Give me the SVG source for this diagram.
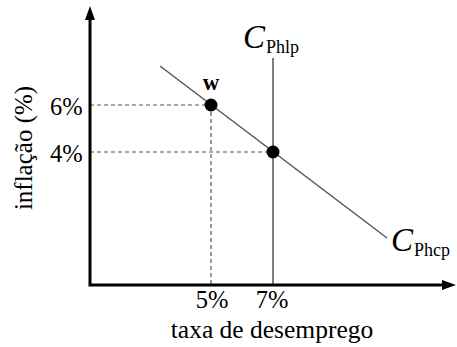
<svg xmlns="http://www.w3.org/2000/svg" width="457" height="347" viewBox="0 0 457 347">
<style>
text{font-family:"Liberation Serif","Times New Roman",serif;fill:#000}
.lbl{font-size:24.5px}
.axis{stroke:#000;stroke-width:3;fill:none}
.dash{stroke:#555;stroke-width:1.2;stroke-dasharray:4 3;fill:none}
.curve{stroke:#555;stroke-width:1.5;fill:none}
</style>
<g id="connectors">
<line class="dash" x1="90" y1="105" x2="211" y2="105"/>
<line class="dash" x1="90" y1="152" x2="273" y2="152"/>
<line class="dash" x1="211" y1="105" x2="211" y2="285"/>
<line class="curve" x1="160" y1="66" x2="387" y2="238"/>
<line class="curve" x1="273" y1="58" x2="273" y2="285"/>
<path class="axis" d="M90,20 V285 H444" />
<path d="M90,6 L85,20 L95,20 z" fill="#000"/>
<path d="M456,285 L442,280 L442,290 z" fill="#000"/>
</g>
<g id="point-w">
<circle cx="211" cy="105" r="6.5"/>
<text x="211" y="90" text-anchor="middle" style="font-size:23px;font-weight:bold">w</text>
</g>
<g id="point-7">
<circle cx="273" cy="152" r="6.5"/>
</g>
<g id="labels">
<text class="lbl" x="50" y="115">6%</text>
<text class="lbl" x="50" y="162">4%</text>
<text class="lbl" x="212" y="308" text-anchor="middle">5%</text>
<text class="lbl" x="272" y="308" text-anchor="middle">7%</text>
<text x="272" y="338" text-anchor="middle" style="font-size:25.5px">taxa de desemprego</text>
<text transform="translate(32,148) rotate(-90)" text-anchor="middle" style="font-size:25px">inflação (%)</text>
</g>
<g id="C-Phlp">
<text x="243" y="48" style="font-size:33px;font-style:italic">C</text>
<text x="266" y="53" style="font-size:18px">Phlp</text>
</g>
<g id="C-Phcp">
<text x="391" y="251" style="font-size:33px;font-style:italic">C</text>
<text x="414" y="256" style="font-size:18px">Phcp</text>
</g>
</svg>
